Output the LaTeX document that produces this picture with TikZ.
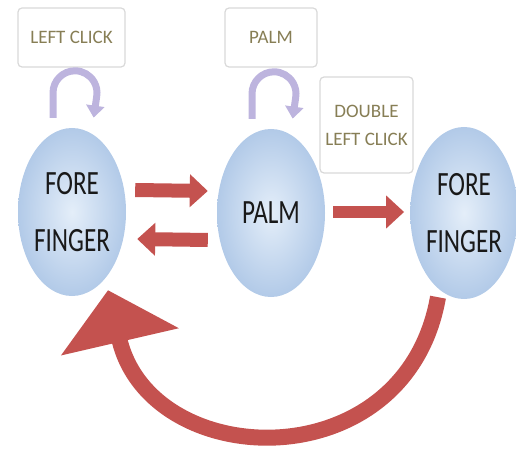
\documentclass[tikz,border=0pt]{standalone}
\usepackage{fontspec}
\setmainfont{Carlito}
\usetikzlibrary{shapes.geometric,arrows.meta}

\definecolor{blobfill}{HTML}{E4EEF9}
\definecolor{blobedge}{HTML}{B2CAE8}
\definecolor{flowred}{HTML}{C4524F}
\definecolor{loopviolet}{HTML}{BDB4DE}
\definecolor{tagtext}{HTML}{877E55}

% the gesture names are set a bit narrow
\newcommand{\narrowtext}[1]{\scalebox{0.74}[1]{#1}}

\tikzset{
  blob/.style={ellipse, inner sep=0pt, shading=radial, inner color=blobfill,
    outer color=blobedge, text=black!90, align=center,
    font=\fontsize{34}{57}\selectfont},
  tagbox/.style={rectangle, rounded corners=4pt, draw=black!15, line width=1.2pt,
    fill=white, inner sep=0pt, text=tagtext, align=center,
    font=\fontsize{19}{28}\selectfont},
  flowarrow/.style={draw=flowred, line width=14pt, -{Triangle[length=18pt,width=32pt]}},
  backarrow/.style={draw=flowred, line width=16pt, -{Triangle[length=53pt,width=118pt]}},
  selfloop/.style={draw=loopviolet, line width=7pt, -{Triangle[length=12pt,width=18pt]}}
}

\begin{document}
\begin{tikzpicture}[x=1pt, y=1pt]
  \useasboundingbox (0,0) rectangle (516,450);

  % states
  \node[blob, minimum width=108pt, minimum height=168pt] (lfinger) at (72,238)
    {\narrowtext{FORE}\\\narrowtext{FINGER}};
  \node[blob, minimum width=108pt, minimum height=168pt] (palm) at (271,237)
    {\narrowtext{PALM}};
  \node[blob, minimum width=102pt, minimum height=172pt] (rfinger) at (464,237)
    {\narrowtext{FORE}\\\narrowtext{FINGER}};

  % action labels
  \node[tagbox, minimum width=107pt, minimum height=59pt] (lclick) at (71.5,412.5) {LEFT CLICK};
  \node[tagbox, minimum width=92pt, minimum height=59pt] (palmtag) at (271,412.5) {PALM};
  \node[tagbox, minimum width=93pt, minimum height=96pt] (dclick) at (366.5,325) {DOUBLE\\LEFT CLICK};

  % staying in the same state
  \draw[selfloop] ([shift={(-19,10)}]lfinger.north) -- ++(0,25)
    arc[start angle=180, end angle=-10, radius=22] -- ++(-3,-21);
  \draw[selfloop] ([shift={(-19,10)}]palm.north) -- ++(0,25)
    arc[start angle=180, end angle=-10, radius=22] -- ++(-3,-21);

  % transitions
  \draw[flowarrow] ([shift={(9,22)}]lfinger.east) -- ([shift={(-9,22)}]palm.west);
  \draw[flowarrow] ([shift={(-9,-27)}]palm.west) -- ([shift={(11,-27)}]lfinger.east);
  \draw[flowarrow, line width=12pt] ([shift={(8,1)}]palm.east) -- ([shift={(-6,1)}]rfinger.west);
  \draw[backarrow] ([shift={(-26,2)}]rfinger.south) to[out=-100, in=-77, looseness=1.45]
    ([shift={(36,6)}]lfinger.south);
\end{tikzpicture}
\end{document}
